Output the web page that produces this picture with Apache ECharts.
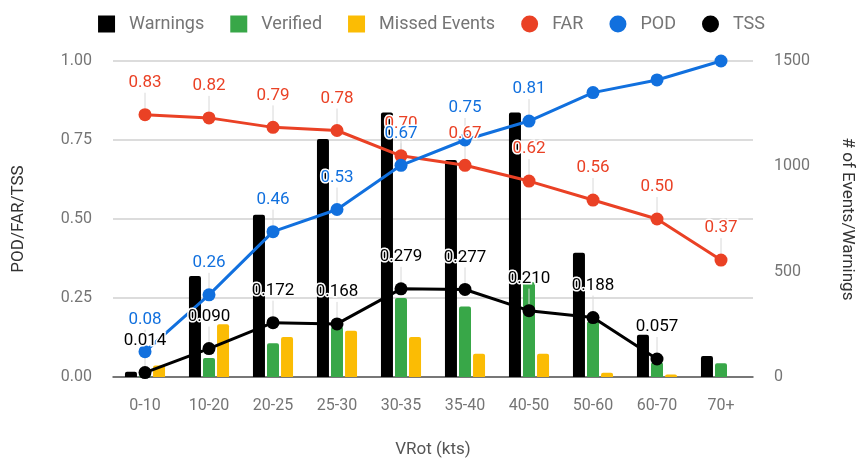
<!DOCTYPE html>
<html>
<head>
<meta charset="utf-8">
<style>
  html, body { margin: 0; padding: 0; background: #fff; }
  #chart { width: 863px; height: 460px; }
</style>
<script src="https://cdn.jsdelivr.net/npm/echarts@6/dist/echarts.min.js"></script>
</head>
<body>
<div id="chart"></div>
<script>
const categories = ['0-10', '10-20', '20-25', '25-30', '30-35', '35-40', '40-50', '50-60', '60-70', '70+']
const warnings = [25, 480, 770, 1130, 1255, 1030, 1255, 590, 200, 100]
const verified = [10, 90, 160, 240, 375, 335, 450, 265, 70, 65]
const missed = [55, 250, 190, 220, 190, 110, 110, 20, 12, 0]
const far = [0.83, 0.82, 0.79, 0.78, 0.70, 0.67, 0.62, 0.56, 0.50, 0.37]
const pod = [0.08, 0.26, 0.46, 0.53, 0.67, 0.75, 0.81, 0.90, 0.94, 1.00]
const tss = [0.014, 0.090, 0.172, 0.168, 0.279, 0.277, 0.210, 0.188, 0.057, null]
// POD labels after 40-50 are hidden in the original (overlap)
const podLabelCount = 7

const font = 'Roboto'
const grey = '#757575'

const chart = echarts.init(document.getElementById('chart'))

// bar series
function barSeries (name, data, color) {
  return {
    name,
    type: 'bar',
    yAxisIndex: 1,
    data,
    barWidth: 12,
    barGap: '17%',
    itemStyle: { color, borderRadius: [2, 2, 0, 0] },
    z: 2
  }
}

// line series with annotation labels
function lineSeries (name, data, color, digits) {
  return {
    name,
    type: 'line',
    yAxisIndex: 0,
    data,
    symbol: 'circle',
    symbolSize: 13,
    lineStyle: { color, width: 3 },
    itemStyle: { color },
    z: 5,
    label: {
      show: true,
      position: 'top',
      distance: 4,
      color,
      fontFamily: font,
      fontSize: 17,
      textBorderColor: '#fff',
      textBorderWidth: 3,
      formatter: p => p.value == null ? '' : Number(p.value).toFixed(digits)
    },
    labelLayout: { dy: -13 },
    labelLine: {
      show: true,
      lineStyle: { color: '#d8d8d8', width: 1 }
    }
  }
}

const podData = pod.map((v, i) => i < podLabelCount
  ? v
  : { value: v, label: { show: false }, labelLine: { show: false } })

chart.setOption({
  animation: false,
  textStyle: { fontFamily: font },
  legend: {
    top: 10,
    left: 'center',
    itemWidth: 17,
    itemHeight: 17,
    itemGap: 26,
    textStyle: { color: grey, fontSize: 18, fontFamily: font, padding: [0, 0, 0, 9] },
    data: [
      { name: 'Warnings', icon: 'rect' },
      { name: 'Verified', icon: 'rect' },
      { name: 'Missed Events', icon: 'rect' },
      { name: 'FAR', icon: 'circle' },
      { name: 'POD', icon: 'circle' },
      { name: 'TSS', icon: 'circle' }
    ]
  },
  grid: {
    left: 113,
    right: 110,
    top: 61,
    bottom: 83,
    outerBoundsMode: 'none'
  },
  xAxis: {
    type: 'category',
    data: categories,
    name: 'VRot (kts)',
    nameLocation: 'middle',
    nameGap: 64,
    nameTextStyle: { color: '#555', fontSize: 17, fontFamily: font },
    axisTick: { show: false },
    axisLine: { lineStyle: { color: '#555', width: 1.5 } },
    axisLabel: { color: grey, fontSize: 16, margin: 21, fontFamily: font }
  },
  yAxis: [{
    type: 'value',
    min: 0,
    max: 1,
    interval: 0.25,
    name: 'POD/FAR/TSS',
    nameLocation: 'middle',
    nameGap: 86,
    nameTextStyle: { color: '#333', fontSize: 17, fontFamily: font },
    axisLine: { show: false },
    axisTick: { show: false },
    axisLabel: {
      color: grey,
      fontSize: 16,
      margin: 21,
      fontFamily: font,
      formatter: v => v.toFixed(2)
    },
    splitLine: { lineStyle: { color: '#d0d0d0', width: 1.5 } }
  }, {
    type: 'value',
    min: 0,
    max: 1500,
    interval: 500,
    name: '# of Events/Warnings',
    nameLocation: 'middle',
    nameGap: 86,
    nameRotate: -90,
    nameTextStyle: { color: '#333', fontSize: 17, fontFamily: font },
    axisLine: { show: false },
    axisTick: { show: false },
    axisLabel: { color: grey, fontSize: 16, margin: 21, fontFamily: font, formatter: v => String(v) },
    splitLine: { show: false }
  }],
  series: [
    barSeries('Warnings', warnings, '#000000'),
    barSeries('Verified', verified, '#38a748'),
    barSeries('Missed Events', missed, '#fbbc04'),
    lineSeries('FAR', far, '#ea4125', 2),
    lineSeries('POD', podData, '#1170de', 2),
    lineSeries('TSS', tss, '#000000', 3)
  ]
})
</script>
</body>
</html>
